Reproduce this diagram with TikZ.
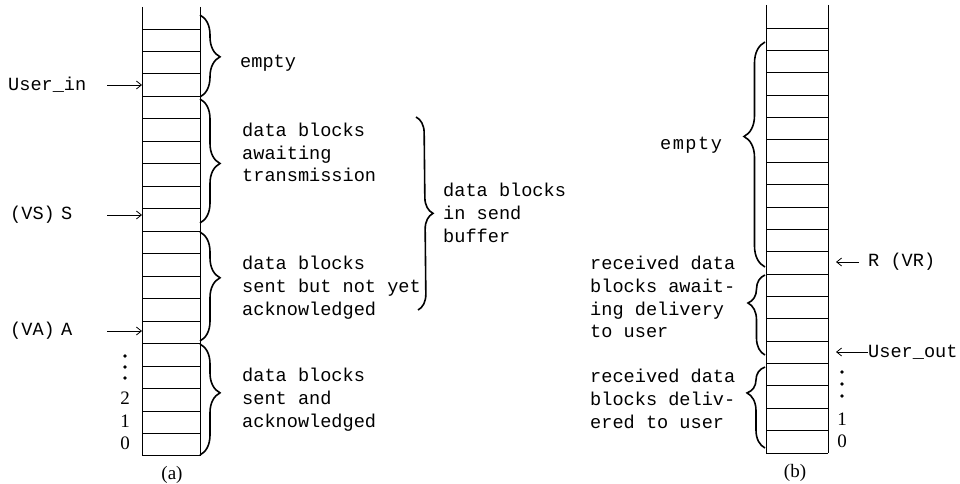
\documentclass[tikz,border=0pt]{standalone}
\usepackage{fontspec}
\setmainfont{Liberation Serif}
\setmonofont{Liberation Mono}
\usetikzlibrary{decorations.pathreplacing,arrows.meta}
\begin{document}
\begin{tikzpicture}[x=1pt,y=-1pt]
\tikzset{
    cell/.style={line width=0.9pt},
    brc/.style={line width=1.6pt, decorate, decoration={brace, amplitude=20pt}},
    txt/.style={font=\fontsize{18.6}{22.7}\selectfont\ttfamily, anchor=west, align=left, inner sep=0pt},
    num/.style={font=\fontsize{19}{21}\selectfont, inner sep=0pt},
    ptr/.style={-{Straight Barb[length=5pt,width=8pt]}, line width=0.8pt}}
\useasboundingbox (0,0) rectangle (960,484);

% send buffer (a)
\def\aL{142}
\def\aR{200}
\def\ah{22.47}
\draw[cell] (\aL,7) -- (\aL,456);
\draw[cell] (\aR,7) -- (\aR,456);
\foreach \i in {0,...,19}
    \draw[cell] (\aL,{29+\i*\ah}) -- (\aR,{29+\i*\ah});

\node[txt, text width=99pt] (userin) at (8,85) {User\_in};
\coordinate (userin tip) at (\aL,85);
\draw[ptr] (userin.east) -- (userin tip);
\node[txt, text width=97pt] (vs) at (10,215) {(VS) S};
\coordinate (vs tip) at (\aL,215);
\draw[ptr] (vs.east) -- (vs tip);
\node[txt, text width=97pt] (va) at (10,331) {(VA) A};
\coordinate (va tip) at (\aL,331);
\draw[ptr] (va.east) -- (va tip);

\foreach \y in {356,367,378}
    \fill (125,\y) circle (1.8pt);
\node[num] (a2) at (125,398) {2};
\node[num] (a1) at (125,421) {1};
\node[num] (a0) at (125,443) {0};

\draw[brc, decoration={aspect=.51}] (\aR,15) -- (\aR,97);
\draw[brc, decoration={aspect=.52}] (\aR,99) -- (\aR,223);
\draw[brc, decoration={aspect=.42}] (\aR,232) -- (\aR,341);
\draw[brc, decoration={aspect=.44}] (\aR,344) -- (\aR,455);
\draw[brc, decoration={amplitude=16pt}] (416,117) -- (418,310);

\node[txt] (aempty) at (240,63) {empty};
\node[txt] (await) at (242,152.5) {data blocks\\awaiting\\transmission};
\node[txt] (unacked) at (242,287.5) {data blocks\\sent but not yet\\acknowledged};
\node[txt] (acked) at (242,399.5) {data blocks\\sent and\\acknowledged};
\node[txt] (sendbuf) at (443,213) {data blocks\\in send\\buffer};
\node[num] (capa) at (172,475) {(a)};

% receive buffer (b)
\def\bL{766}
\def\bR{828}
\def\bh{22.37}
\draw[cell] (\bL,5) -- (\bL,453);
\draw[cell] (\bR,5) -- (\bR,453);
\foreach \i in {0,...,19}
    \draw[cell] (\bL,{28+\i*\bh}) -- (\bR,{28+\i*\bh});

\node[txt] (rvr) at (868,262) {R (VR)};
\coordinate (rvr tip) at (836,262);
\draw[ptr, shorten <=9pt] (rvr.west) -- (rvr tip);
\node[txt] (userout) at (868,352) {User\_out};
\coordinate (userout tip) at (836,352);
\draw[ptr] (userout.west) -- (userout tip);

\foreach \y in {372,384,396}
    \fill (842,\y) circle (1.8pt);
\node[num] (b1) at (842,419) {1};
\node[num] (b0) at (842,441) {0};

\draw[brc, decoration={aspect=.58, amplitude=21pt}] (765,267) -- (765,42);
\draw[brc, decoration={aspect=.65, amplitude=17pt}] (765,355) -- (765,275);
\draw[brc, decoration={aspect=.68, amplitude=18pt}] (765,448) -- (765,367);

\node[txt] (bempty) at (660,145) {\addfontfeature{LetterSpace=8}empty};
\node[txt] (pending) at (590,297) {received data\\blocks await-\\ing delivery\\to user};
\node[txt] (delivered) at (590,399) {received data\\blocks deliv-\\ered to user};
\node[num] (capb) at (795,473) {(b)};
\end{tikzpicture}
\end{document}
